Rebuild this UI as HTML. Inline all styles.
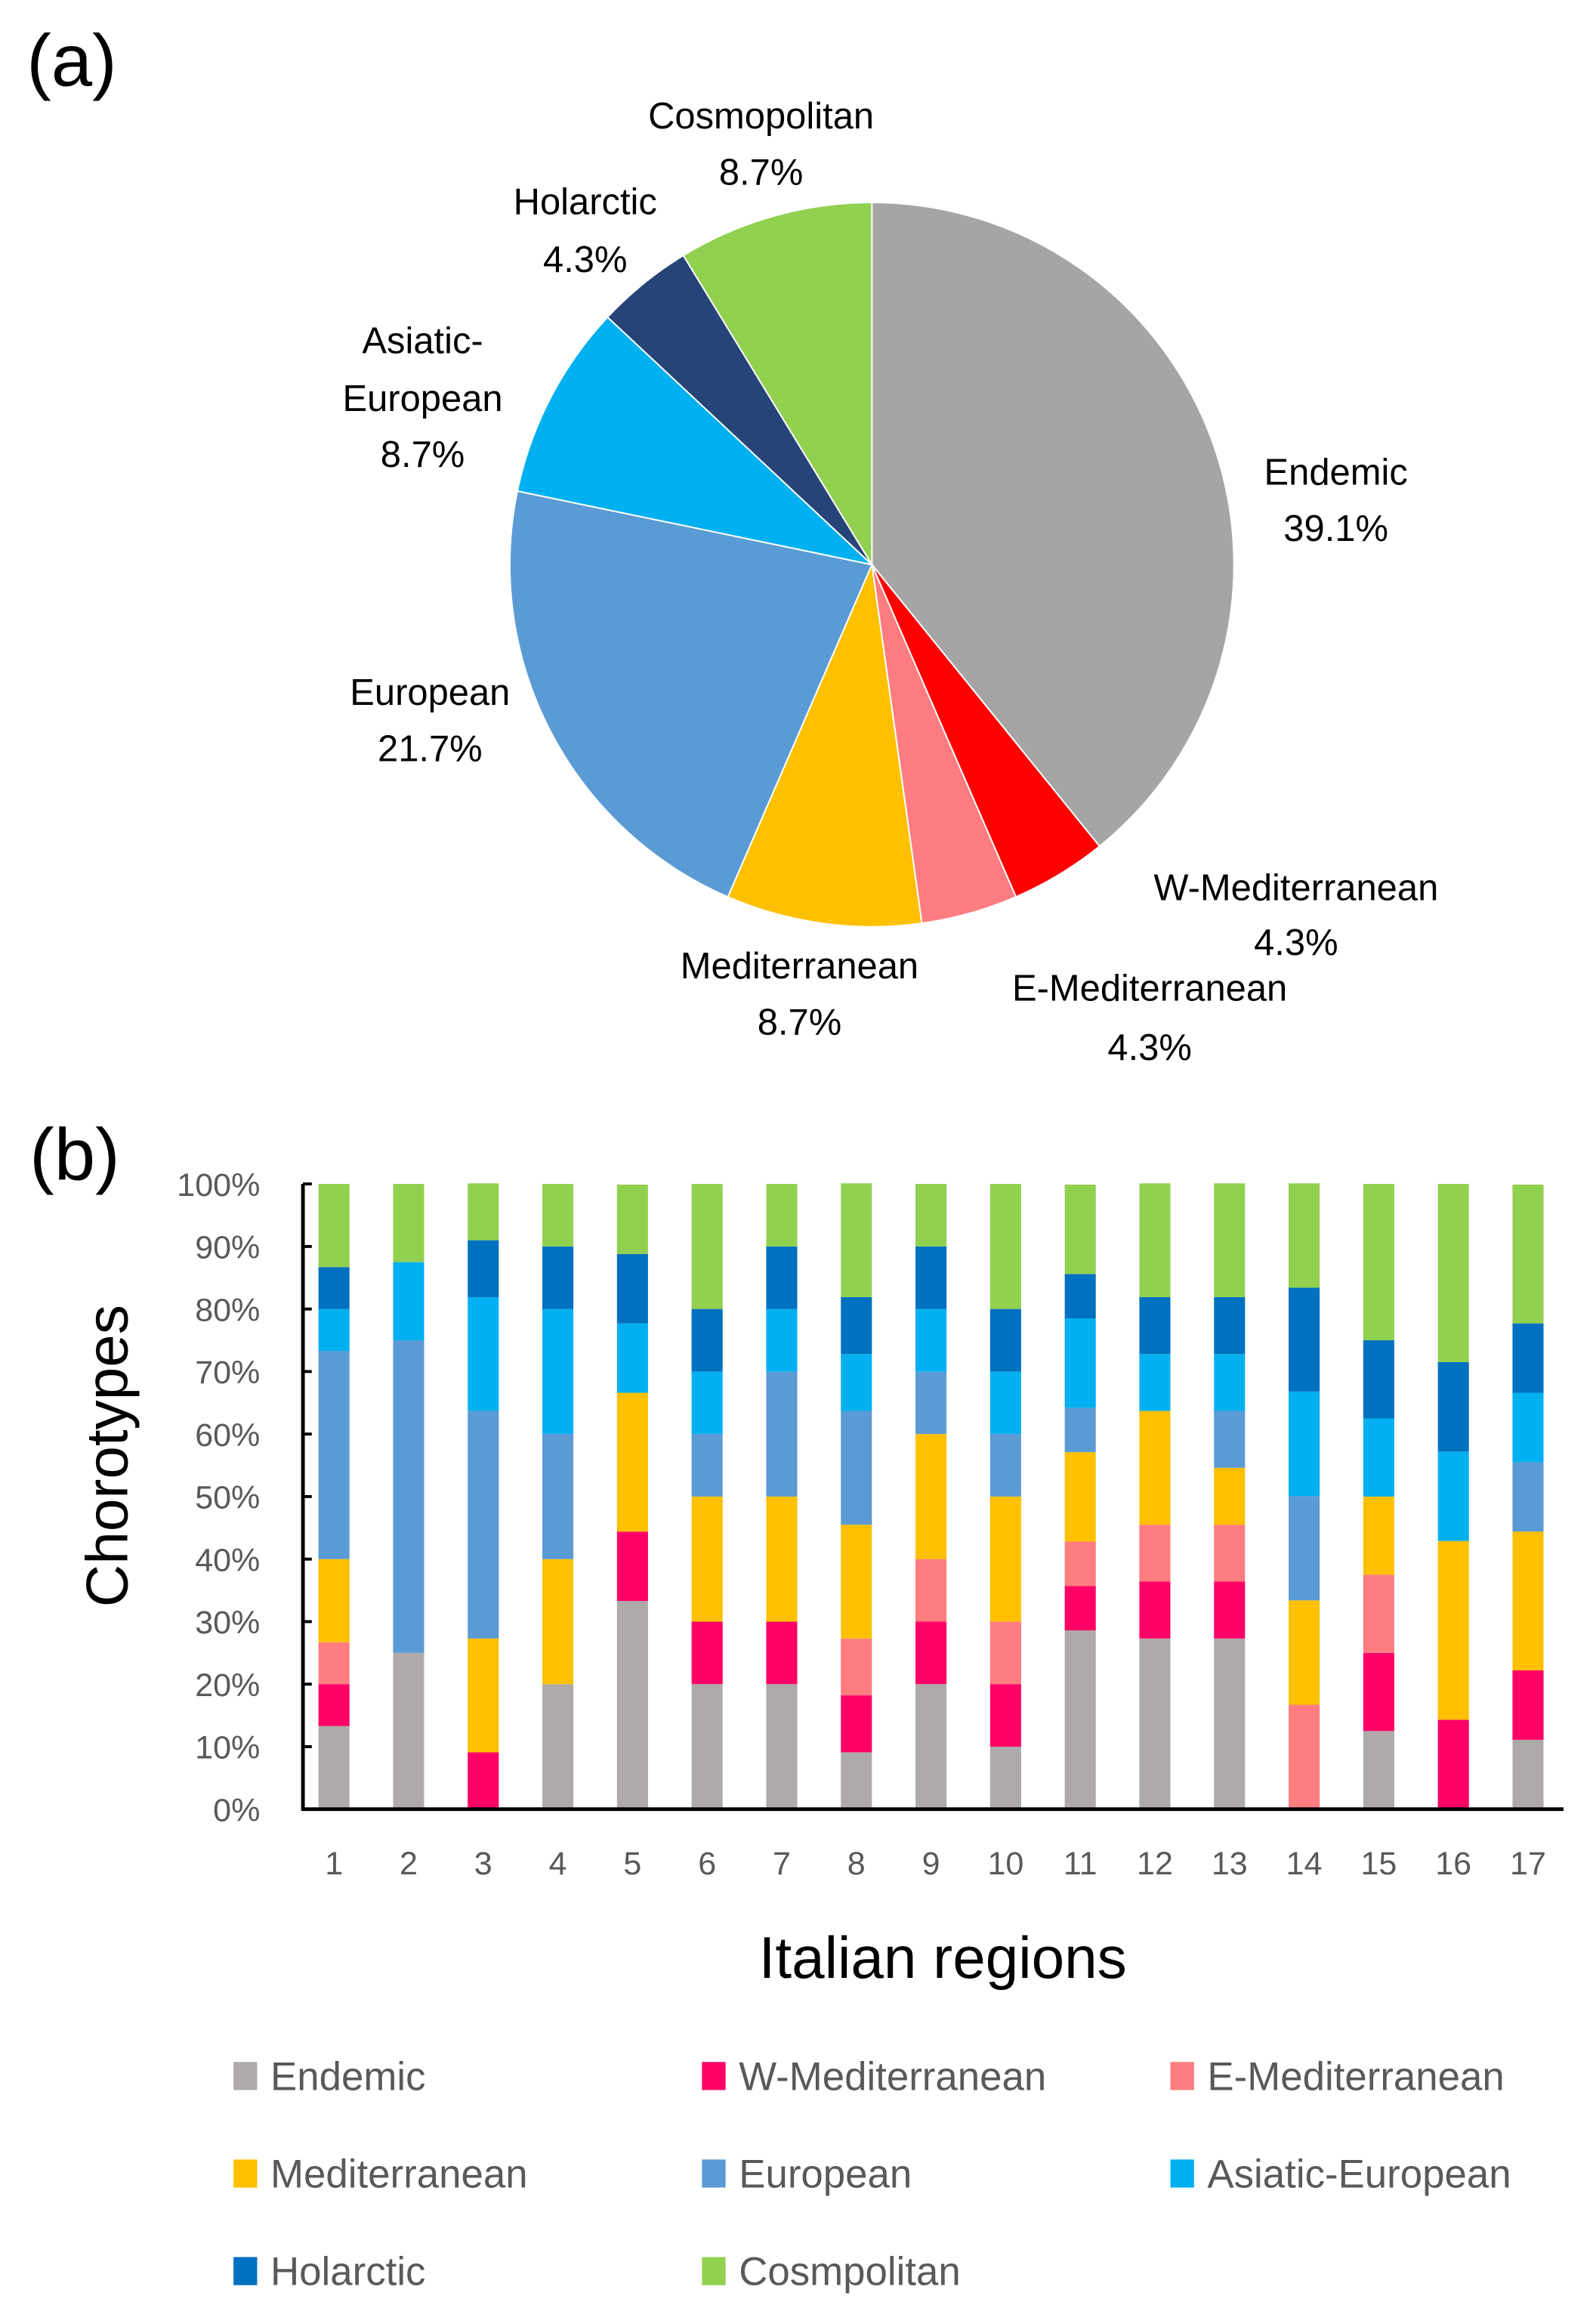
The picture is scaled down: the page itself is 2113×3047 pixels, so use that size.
<!DOCTYPE html>
<html><head><meta charset="utf-8"><style>
html,body{margin:0;padding:0;background:#fff;}
svg{display:block;}
text{font-family:"Liberation Sans",sans-serif;}
</style></head><body>
<svg id="fig" width="2113" height="3047" viewBox="0 0 1080 1557.4" xmlns="http://www.w3.org/2000/svg">
<text x="18" y="58" font-size="50" fill="#000">(a)</text>
<g id="pie"></g>
<g id="pielabels" fill="#000" font-size="25" text-anchor="middle">
<text x="515" y="87">Cosmopolitan</text><text x="515" y="125">8.7%</text>
<text x="396" y="145">Holarctic</text><text x="396" y="184">4.3%</text>
<text x="286" y="239">Asiatic-</text><text x="286" y="278">European</text><text x="286" y="316">8.7%</text>
<text x="291" y="477">European</text><text x="291" y="515">21.7%</text>
<text x="904" y="328">Endemic</text><text x="904" y="366">39.1%</text>
<text x="877" y="609">W-Mediterranean</text><text x="877" y="646">4.3%</text>
<text x="541" y="662">Mediterranean</text><text x="541" y="700">8.7%</text>
<text x="778" y="677">E-Mediterranean</text><text x="778" y="717">4.3%</text>
</g>
<text x="20" y="798" font-size="50" fill="#000">(b)</text>
<text transform="translate(86,985) rotate(-90)" font-size="40" text-anchor="middle" fill="#000">Chorotypes</text>
<text x="638" y="1338" font-size="40" text-anchor="middle" fill="#000">Italian regions</text>
<g id="bars"></g>
<g id="legend"></g>
</svg>
<script>
const pieNames = ["Endemic","W-Mediterranean","E-Mediterranean","Mediterranean","European","Asiatic-European","Holarctic","Cosmopolitan"];
const pieValues = [39.1,4.3,4.3,8.7,21.7,8.7,4.3,8.7];
const pieColors = ["#A5A5A5","#FF0000","#FF7C80","#FFC000","#5B9BD5","#00B0F0","#264478","#92D050"];

const regions = ["1","2","3","4","5","6","7","8","9","10","11","12","13","14","15","16","17"];
const seriesNames = ["Endemic","W-Mediterranean","E-Mediterranean","Mediterranean","European","Asiatic-European","Holarctic","Cosmpolitan"];
const endemic   = [13.3,25,0,20,33.3,20,20,9.1,20,10,28.6,27.3,27.3,0,12.5,0,11.1];
const wMed      = [6.7,0,9.1,0,11.1,10,10,9.1,10,10,7.1,9.1,9.1,0,12.5,14.3,11.1];
const eMed      = [6.7,0,0,0,0,0,0,9.1,10,10,7.1,9.1,9.1,16.7,12.5,0,0];
const med       = [13.3,0,18.2,20,22.2,20,20,18.2,20,20,14.3,18.2,9.1,16.7,12.5,28.6,22.2];
const european  = [33.3,50,36.4,20,0,10,20,18.2,10,10,7.1,0,9.1,16.7,0,0,11.1];
const asiatic   = [6.7,12.5,18.2,20,11.1,10,10,9.1,10,10,14.3,9.1,9.1,16.7,12.5,14.3,11.1];
const holarctic = [6.7,0,9.1,10,11.1,10,10,9.1,10,10,7.1,9.1,9.1,16.6,12.5,14.3,11.1];
const cosmo     = [13.3,12.5,9.1,10,11.1,20,10,18.2,10,20,14.3,18.2,18.2,16.7,25,28.5,22.2];
const yTicks = ["0%","10%","20%","30%","40%","50%","60%","70%","80%","90%","100%"];
const series = [endemic,wMed,eMed,med,european,asiatic,holarctic,cosmo];
const barColors = ["#AEAAAA","#FF0066","#FF7C80","#FFC000","#5B9BD5","#00B0F0","#0070C0","#92D050"];

const NS="http://www.w3.org/2000/svg";
function mk(tag,attrs,parent){const e=document.createElementNS(NS,tag);for(const k in attrs)e.setAttribute(k,attrs[k]);parent.appendChild(e);return e;}

// Pie
const pie=document.getElementById('pie');
const cx=590, cy=382, r=245;
const total=pieValues.reduce((a,b)=>a+b,0);
let ang=-Math.PI/2;
pieValues.forEach((v,i)=>{
  const a2=ang+v/total*2*Math.PI;
  const x1=cx+r*Math.cos(ang), y1=cy+r*Math.sin(ang), x2=cx+r*Math.cos(a2), y2=cy+r*Math.sin(a2);
  const large=(a2-ang)>Math.PI?1:0;
  const p=mk('path',{d:`M${cx},${cy} L${x1},${y1} A${r},${r} 0 ${large} 1 ${x2},${y2} Z`,fill:pieColors[i],stroke:'#fff','stroke-width':1},pie);
  
  
  ang=a2;
});

// Bars
const g=document.getElementById('bars');
const x0=205, xEnd=1058, yTop=801, yBot=1224;
const yS=v=>yBot-(v/100)*(yBot-yTop);
const xS=i=>226+i*50.5;
const bw=21;
regions.forEach((rg,i)=>{
  let acc=0;
  series.forEach((s,k)=>{
    const v=s[i]; if(v<=0) return;
    const r=mk('rect',{x:xS(i)-bw/2,y:yS(acc+v),width:bw,height:yS(acc)-yS(acc+v),fill:barColors[k]},g);
    
    
    acc+=v;
  });
  const t=mk('text',{x:xS(i),y:1268,'font-size':22,'text-anchor':'middle',fill:'#595959'},g);
  t.textContent=rg;
  
  
});
yTicks.forEach((lab,j)=>{
  const y=yS(j*10);
  const tk=mk('line',{x1:x0,x2:x0+6,y1:y,y2:y,stroke:'#000','stroke-width':2},g);
  
  
  const t=mk('text',{x:176,y:y+8,'font-size':22,'text-anchor':'end',fill:'#595959'},g);
  t.textContent=lab;
  
  
});
const ya=mk('line',{x1:x0,x2:x0,y1:yTop,y2:yBot+1,stroke:'#000','stroke-width':2.5},g);


const xa=mk('line',{x1:x0-1,x2:xEnd,y1:yBot,y2:yBot,stroke:'#000','stroke-width':2.5},g);



// Legend
const lg=document.getElementById('legend');
const lcols=[158,475,792], lrows=[1404,1470,1536];
seriesNames.forEach((n,k)=>{
  const cxl=lcols[k%3], cyl=lrows[Math.floor(k/3)];
  const s=mk('rect',{x:cxl,y:cyl-9,width:16,height:19,fill:barColors[k]},lg);
  
  
  const t=mk('text',{x:cxl+25,y:cyl+10,'font-size':27,fill:'#595959'},lg);
  t.textContent=n;
  
  
});
</script>
</body></html>
